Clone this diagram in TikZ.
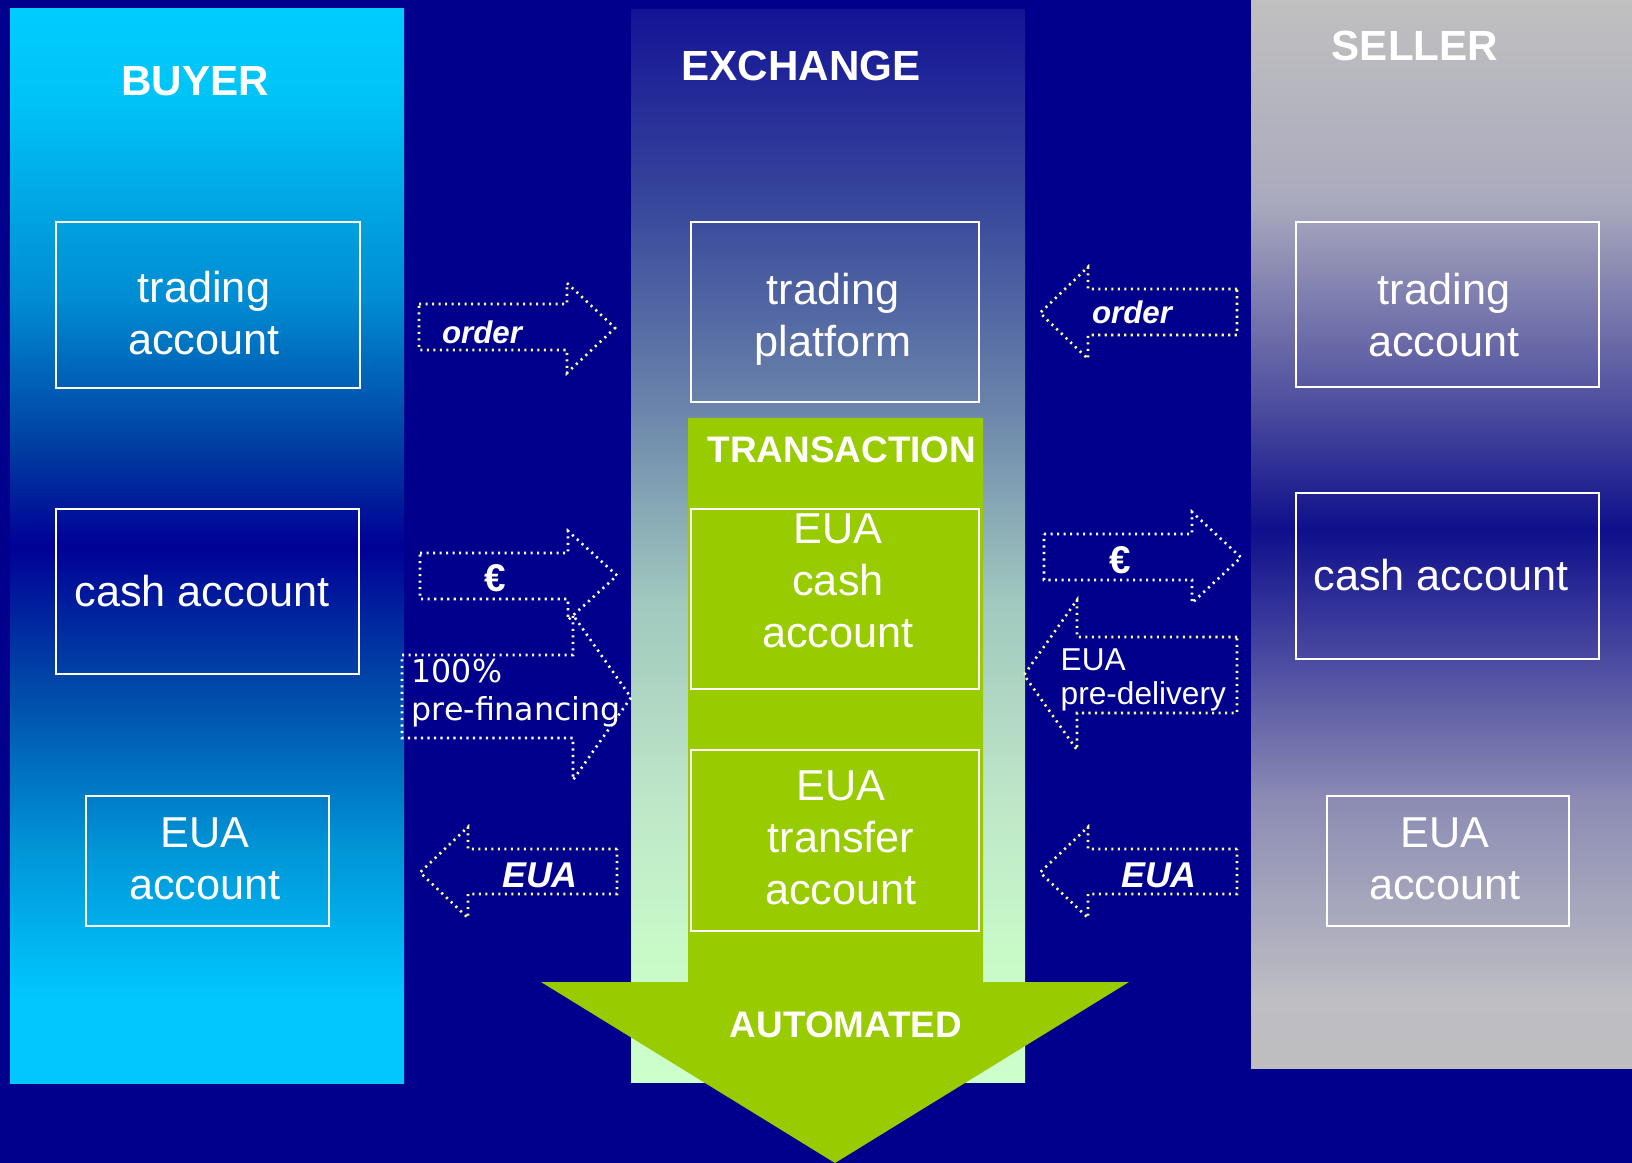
\documentclass[tikz,border=0pt]{standalone}
\usepackage{fontspec}
\setmainfont{Liberation Sans}
\newfontfamily\dejavu{DejaVu Sans}

\definecolor{navy}{RGB}{0,0,140}
\definecolor{leaf}{RGB}{153,204,0}
\definecolor{dotyellow}{RGB}{255,255,140}

% column shadings (bottom = 25bp, top = 75bp)
\pgfdeclareverticalshading{buyershade}{100bp}{rgb(0bp)=(0,.784,1); rgb(25bp)=(0,.784,1);
  rgb(28.9bp)=(0,.784,1); rgb(35.8bp)=(0,.588,.843); rgb(42.8bp)=(0,.314,.667);
  rgb(50bp)=(0,0,.588); rgb(54.5bp)=(0,.235,.627); rgb(61.5bp)=(0,.549,.824);
  rgb(70.8bp)=(0,.765,.961); rgb(75bp)=(0,.8,1); rgb(100bp)=(0,.8,1)}
\pgfdeclareverticalshading{exchshade}{100bp}{rgb(0bp)=(.8,1,.8); rgb(25bp)=(.8,1,.8);
  rgb(31.2bp)=(.784,.98,.784); rgb(38.2bp)=(.745,.902,.784); rgb(47.5bp)=(.627,.784,.745);
  rgb(56.8bp)=(.412,.51,.667); rgb(66.1bp)=(.216,.275,.608);
  rgb(75bp)=(.078,.078,.588); rgb(100bp)=(.078,.078,.588)}
\pgfdeclareverticalshading{sellershade}{100bp}{rgb(0bp)=(.745,.745,.753); rgb(25bp)=(.745,.745,.753);
  rgb(28.2bp)=(.745,.745,.765); rgb(37.5bp)=(.549,.549,.706); rgb(44.6bp)=(.275,.275,.627);
  rgb(50.2bp)=(.059,.059,.549); rgb(56.3bp)=(.314,.314,.627); rgb(65.6bp)=(.667,.667,.745);
  rgb(75bp)=(.753,.753,.753); rgb(100bp)=(.753,.753,.753)}

\begin{document}
\begin{tikzpicture}[x=0.1mm, y=-0.1mm,
  acct/.style={draw=white, line width=0.6pt, inner sep=0pt},
  accttext/.style={text=white, align=center, inner sep=0pt, font=\fontsize{12.3}{14.8}\selectfont},
  heading/.style={text=white, inner sep=0pt, font=\bfseries\fontsize{12}{14}\selectfont},
  subheading/.style={text=white, inner sep=0pt, font=\bfseries\fontsize{10.5}{12}\selectfont},
  dotline/.style={line width=0.75pt, dash pattern=on 0.6pt off 1.25pt},
  ordertext/.style={text=white, inner sep=0pt, font=\bfseries\itshape\fontsize{8.9}{10}\selectfont},
  euatext/.style={text=white, inner sep=0pt, font=\bfseries\itshape\fontsize{10.2}{12}\selectfont},
  eurotext/.style={text=white, inner sep=0pt, font=\bfseries\fontsize{11}{12}\selectfont},
  notetext/.style={text=white, inner sep=0pt, align=left, anchor=west}]

  \useasboundingbox (0,0) rectangle (1632,1163);
  \fill[navy] (0,0) rectangle (1632,1163);

  % columns
  \shade[shading=buyershade] (10,9) rectangle (404,1083);
  \shade[shading=exchshade] (631,10) rectangle (1025,1082);
  \shade[shading=sellershade] (1251,0) rectangle (1632,1068);

  % transaction block and big arrow
  \fill[leaf] (688,418) -- (983,418) -- (983,982) -- (1129,982) -- (835,1163)
    -- (541,982) -- (688,982) -- cycle;

  \node[heading] (buyer) at (195,81) {BUYER};
  \node[heading] (exchange) at (801,66) {EXCHANGE};
  \node[heading] (seller) at (1415,46) {SELLER};
  \node[subheading] (transaction) at (842,450) {TRANSACTION};
  \node[subheading] (automated) at (846,1025) {AUTOMATED};

  % account boxes
  \foreach \n/\x/\y/\w/\h in {btrade/208/305/30.4/16.6, bcash/207.5/591.5/30.3/16.5,
      beua/207.5/861/24.3/13, xtrade/835/312/28.8/18, xcash/835/599/28.8/18,
      xeua/835/840.5/28.8/18.1, strade/1447.5/304.5/30.3/16.5,
      scash/1447.5/576/30.3/16.6, seua/1448/861/24.2/13}
    \node[acct, minimum width=\w mm, minimum height=\h mm] (\n) at (\x,\y) {};

  \node[accttext] (btrade-t) at (204,313) {trading\\account};
  \node[accttext] (bcash-t) at (202,591) {cash account};
  \node[accttext] (beua-t) at (205,859) {EUA\\account};
  \node[accttext] (xtrade-t) at (833,319) {trading\\platform};
  \node[accttext] (xcash-t) at (838,581) {EUA\\cash\\account};
  \node[accttext] (xeua-t) at (841,838) {EUA\\transfer\\account};
  \node[accttext] (strade-t) at (1444,315) {trading\\account};
  \node[accttext] (scash-t) at (1441,575) {cash account};
  \node[accttext] (seua-t) at (1445,859) {EUA\\account};

  % dotted block arrows: tail x / head base x / tip x / body top / body bottom / head top / head bottom
  \foreach \xa/\xb/\xt/\ya/\yb/\ha/\hb/\c in {
      419/567/615/304/350/283/373/dotyellow,
      420/568/617/553/599/531/620/white,
      402/573/631/655/738/615/780/white,
      617/468/420/849/894/827/918/dotyellow,
      1237/1088/1040/289/335/267/359/dotyellow,
      1044/1192/1241/534/580/512/603/white,
      1237/1077/1024/637/713/600/750/dotyellow,
      1237/1088/1040/849/894/827/918/dotyellow}
    \draw[dotline, \c] (\xa,\ya) -- (\xb,\ya) -- (\xb,\ha) -- (\xt,{(\ha+\hb)/2})
      -- (\xb,\hb) -- (\xb,\yb) -- (\xa,\yb) -- cycle;

  \node[ordertext] (border) at (482,332) {order};
  \node[ordertext] (sorder) at (1132,312) {order};
  \node[eurotext] (beuro) at (495,578) {€};
  \node[eurotext] (seuro) at (1120,560) {€};
  \node[euatext] (beuaflow) at (540,875) {EUA};
  \node[euatext] (seuaflow) at (1159,875) {EUA};
  \node[notetext, font=\dejavu\fontsize{9}{10.8}\selectfont] (prefin) at (411,693) {100\%\\pre-financing};
  \node[notetext, font=\fontsize{9}{9.7}\selectfont] (predel) at (1060,680) {EUA\\pre-delivery};
\end{tikzpicture}
\end{document}
